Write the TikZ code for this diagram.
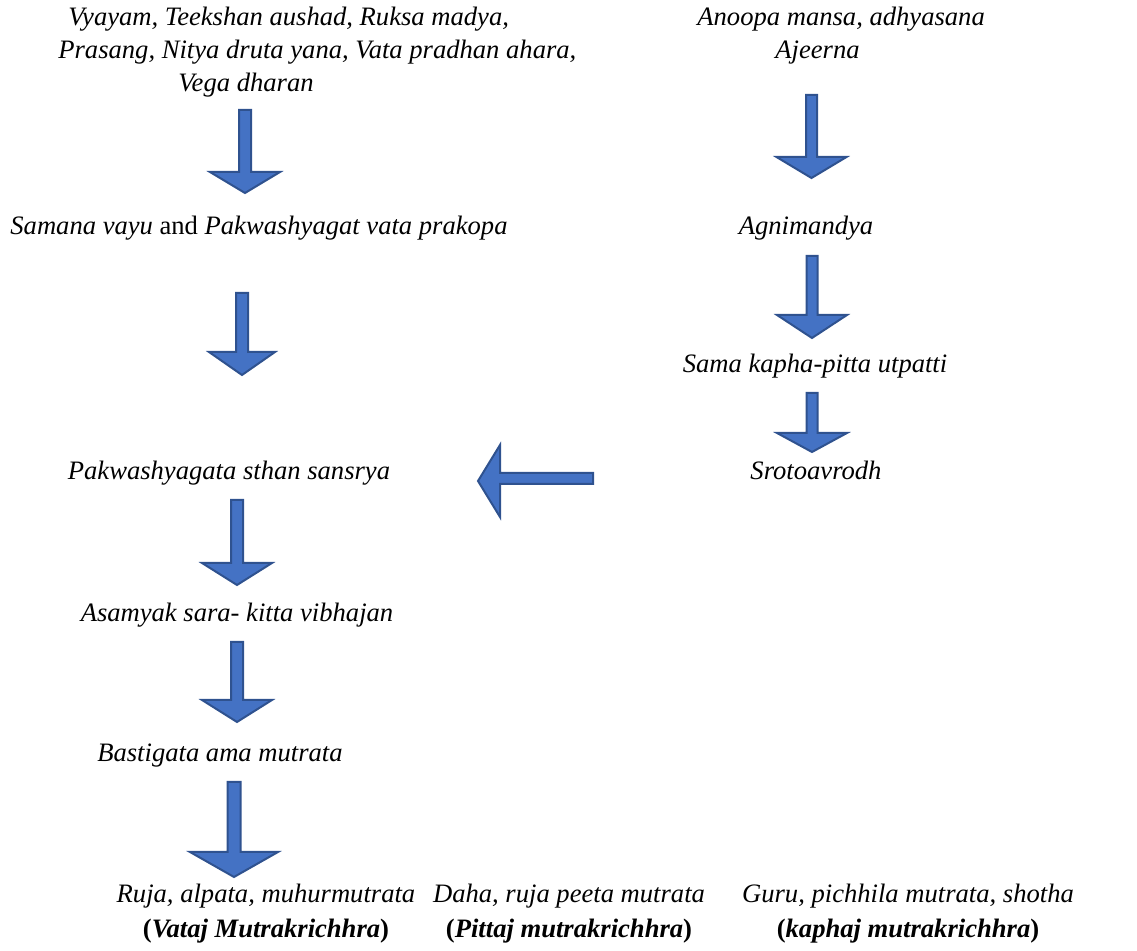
\documentclass[tikz,border=0pt]{standalone}
\usepackage{fontspec}
\setmainfont{Liberation Serif}
\usepackage{xcolor}
\usepackage{tikz}
\usetikzlibrary{positioning,calc}
\definecolor{arrowfill}{RGB}{68,114,196}
\definecolor{arrowedge}{RGB}{47,82,143}

% block arrow pointing down: x, top, head base, tip, shaft half width, head half width
\newcommand{\downblock}[6]{%
  \draw[blockarrow] (#1-#5,#2) -- (#1+#5,#2) -- (#1+#5,#3) -- (#1+#6,#3) -- (#1,#4)
    -- (#1-#6,#3) -- (#1-#5,#3) -- cycle;}
\newcommand{\mutra}[1]{\textbf{\textup{(}#1\textup{)}}}

\begin{document}
\begin{tikzpicture}[x=0.5pt, y=-0.5pt,
    lbl/.style={inner sep=0, font=\fontsize{13.3pt}{16.5pt}\selectfont\itshape},
    typelbl/.style={lbl, align=center, font=\fontsize{13.3pt}{17.5pt}\selectfont\itshape},
    blockarrow/.style={fill=arrowfill, draw=arrowedge, line width=1pt, line join=miter}
]
\useasboundingbox (0,0) rectangle (1137,951);

% Left chain
\node[lbl, anchor=base west, align=left] (causeL) at (58,92)
  {\hspace*{5pt}Vyayam, Teekshan aushad, Ruksa madya,\\Prasang, Nitya druta yana, Vata pradhan ahara,\\\hspace*{60pt}Vega dharan};
\node[lbl, anchor=base west] (prakopa) at (10,235) {Samana vayu \textup{and} Pakwashyagat vata prakopa};
\node[lbl, anchor=base] (sthan) at (229,480) {Pakwashyagata sthan sansrya};
\node[lbl, anchor=base] (vibhajan) at (237,622) {Asamyak sara- kitta vibhajan};
\node[lbl, anchor=base] (ama) at (220,762) {Bastigata ama mutrata};

% Right chain
\node[lbl, anchor=base west, align=left] (causeR) at (697,59)
  {Anoopa mansa, adhyasana\\\hspace*{39pt}Ajeerna};
\node[lbl, anchor=base] (agni) at (806,235) {Agnimandya};
\node[lbl, anchor=base] (sama) at (815,373) {Sama kapha-pitta utpatti};
\node[lbl, anchor=base] (sroto) at (816,480) {Srotoavrodh};

% Types
\node[typelbl, anchor=base] (vataj) at (266,938)
  {Ruja, alpata, muhurmutrata\\\mutra{Vataj Mutrakrichhra}};
\node[typelbl, anchor=base] (pittaj) at (569,938)
  {Daha, ruja peeta mutrata\\\mutra{Pittaj mutrakrichhra}};
\node[typelbl, anchor=base] (kaphaj) at (908,938)
  {Guru, pichhila mutrata, shotha\\\mutra{kaphaj mutrakrichhra}};

% Arrows
\downblock{245}{110}{172}{193}{6}{35}
\downblock{242}{293}{352}{375}{6}{33}
\downblock{237}{500}{563}{585}{6}{35}
\downblock{237}{642}{700}{722}{6}{35}
\downblock{234}{782}{852}{877}{6.5}{44}
\downblock{811.5}{95}{157}{178}{5.5}{35}
\downblock{812}{256}{315}{338}{5.5}{35}
\downblock{812}{393}{433}{452}{5.5}{35}
\draw[blockarrow] (593,473) -- (500,473) -- (500,445) -- (478,481) -- (500,517)
  -- (500,484) -- (593,484) -- cycle;

\end{tikzpicture}
\end{document}
